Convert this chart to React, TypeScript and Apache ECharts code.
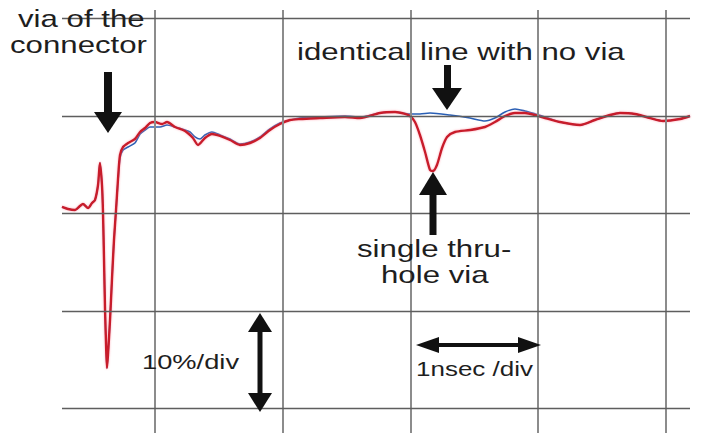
import React, { useEffect, useRef } from "react";
import * as echarts from "echarts";

// time in ns (grid lines at whole ns), level in % (grid line every 10 %)
const timeRed = [
  0.272, 0.319, 0.374, 0.413, 0.436, 0.476, 0.507, 0.53, 0.554, 0.569, 0.585, 0.593, 0.601, 0.609, 0.617,
  0.624, 0.632, 0.648, 0.663, 0.679, 0.695, 0.71, 0.726, 0.75, 0.789, 0.843, 0.883, 0.922, 0.961, 1.0,
  1.055, 1.094, 1.157, 1.235, 1.297, 1.337, 1.391, 1.446, 1.509, 1.587, 1.665, 1.744, 1.822, 1.9, 1.978,
  2.057, 2.135, 2.292, 2.487, 2.605, 2.761, 2.879, 2.957, 2.996, 3.035, 3.074, 3.114, 3.153, 3.176, 3.207,
  3.247, 3.286, 3.348, 3.466, 3.583, 3.661, 3.74, 3.818, 3.896, 3.975, 4.053, 4.17, 4.327, 4.444, 4.562,
  4.64, 4.757, 4.875, 4.977, 5.11, 5.188,
];
const redTrace = [
  -9.33, -9.54, -9.64, -9.23, -9.03, -9.44, -8.92, -8.62, -7.08, -4.82, -7.08, -9.95, -14.77, -19.9, -23.5,
  -25.85, -24.5, -20.9, -16.8, -12.7, -9.64, -6.56, -4.0, -3.18, -2.77, -2.36, -1.64, -1.23, -0.72, -0.62,
  -0.82, -0.62, -1.13, -1.54, -2.26, -2.97, -2.26, -1.85, -2.05, -2.46, -2.97, -2.77, -2.26, -1.44, -0.82,
  -0.41, -0.31, -0.21, -0.1, -0.21, 0.31, 0.41, 0.21, 0.0, -0.62, -1.95, -3.69, -5.54, -5.64, -5.03,
  -3.28, -2.15, -1.64, -1.44, -1.13, -0.62, 0.0, 0.31, 0.31, 0.1, -0.21, -0.62, -0.92, -0.41, 0.1,
  0.31, 0.21, -0.21, -0.51, -0.31, 0.0,
];
const timeBlue = [
  0.272, 0.319, 0.374, 0.413, 0.436, 0.476, 0.507, 0.53, 0.554, 0.569, 0.585, 0.593, 0.601, 0.609, 0.617,
  0.624, 0.632, 0.648, 0.663, 0.679, 0.695, 0.71, 0.726, 0.75, 0.789, 0.843, 0.883, 0.922, 0.961, 1.039,
  1.094, 1.157, 1.235, 1.274, 1.313, 1.352, 1.391, 1.446, 1.509, 1.587, 1.665, 1.744, 1.822, 1.9, 1.978,
  2.057, 2.135, 2.292, 2.487, 2.605, 2.761, 2.879, 2.996, 3.074, 3.153, 3.309, 3.466, 3.583, 3.661, 3.74,
  3.818, 3.896, 3.975, 4.053, 4.17, 4.327, 4.444, 4.562, 4.64, 4.757, 4.875, 4.977, 5.11, 5.188,
];
const blueTrace = [
  -9.33, -9.54, -9.64, -9.23, -9.03, -9.44, -8.92, -8.62, -7.08, -4.82, -7.08, -9.95, -14.77, -19.9, -23.5,
  -25.85, -24.5, -20.9, -16.8, -12.7, -9.64, -6.77, -4.31, -3.49, -3.18, -2.77, -1.85, -1.44, -1.13, -1.13,
  -0.92, -1.13, -1.44, -1.64, -2.15, -2.36, -1.95, -1.64, -1.95, -2.36, -2.87, -2.67, -2.15, -1.33, -0.72,
  -0.41, -0.21, -0.1, 0.0, -0.1, 0.31, 0.41, 0.21, 0.21, 0.31, 0.1, -0.21, -0.51, -0.21, 0.41,
  0.72, 0.51, 0.21, -0.1, -0.62, -0.92, -0.41, 0.1, 0.31, 0.21, -0.21, -0.51, -0.31, 0.0,
];
const timeDivisions = [1, 2, 3, 4, 5];
const levelDivisions = [10, 0, -10, -20, -30];
const timeRange = [0.272, 5.188];
const levelRange = [-32.51, 10.87];

const FONT = "'Liberation Sans', Arial, Helvetica, sans-serif";
const SX = 1.3;

function label(text: string, x: number, baseline: number, size: number) {
  return {
    type: "text",
    x,
    y: baseline,
    scaleX: SX,
    z: 10,
    style: {
      text,
      x: 0,
      y: 0,
      fill: "#1e1e1e",
      font: `${size}px ${FONT}`,
      textAlign: "left",
      textVerticalAlign: "bottom",
    },
  };
}

function poly(points: number[][]) {
  return { type: "polygon", z: 10, shape: { points }, style: { fill: "#111" } };
}
function bar(x: number, y: number, w: number, h: number) {
  return { type: "rect", z: 10, shape: { x, y, width: w, height: h }, style: { fill: "#111" } };
}

export default function App() {
  const ref = useRef<HTMLDivElement>(null);
  useEffect(() => {
    if (!ref.current) return;
    const chart = echarts.init(ref.current, undefined, { renderer: "svg" });
    const red = timeRed.map((t, i) => [t, redTrace[i]]);
    const blue = timeBlue.map((t, i) => [t, blueTrace[i]]);
    const gridLines = [
      ...timeDivisions.map((v) => ({ xAxis: v, lineStyle: { color: "#8c8c8c", width: 2, type: "solid" } })),
      ...levelDivisions.map((v) => ({ yAxis: v, lineStyle: { color: "#5e5e5e", width: 1.3, type: "solid" } })),
    ];
    chart.setOption({
      animation: false,
      backgroundColor: "#ffffff",
      grid: { left: 62, right: 38, top: 10, bottom: 7 },
      xAxis: {
        type: "value",
        min: timeRange[0],
        max: timeRange[1],
        show: false,
        splitLine: { show: false },
      },
      yAxis: {
        type: "value",
        min: levelRange[0],
        max: levelRange[1],
        show: false,
        splitLine: { show: false },
      },
      series: [
        {
          type: "line",
          name: "grid",
          data: [],
          z: 1,
          silent: true,
          markLine: {
            silent: true,
            symbol: "none",
            label: { show: false },
            animation: false,
            data: gridLines,
          },
        },
        {
          type: "line",
          name: "identical line with no via",
          data: blue,
          z: 3,
          smooth: 0.25,
          showSymbol: false,
          symbol: "none",
          lineStyle: { color: "#2a5fb5", width: 1.6, join: "round" },
        },
        {
          type: "line",
          name: "single thru-hole via",
          data: red,
          z: 4,
          smooth: 0.25,
          showSymbol: false,
          symbol: "none",
          lineStyle: {
            color: "#c81a2c",
            width: 2.4,
            join: "round",
            shadowColor: "rgba(255,120,140,0.6)",
            shadowBlur: 2,
          },
        },
      ],
      graphic: [
        label("via of the", 18, 31, 24),
        label("connector", 10, 57, 24),
        label("identical line with no via", 297, 64, 24),
        label("single thru-", 357, 261, 24),
        label("hole via", 381, 287, 24),
        label("10%/div", 142, 372, 21),
        label("1nsec /div", 416, 379, 20),
        // arrow to connector via
        bar(104, 72, 8, 41),
        poly([[94, 112], [122, 112], [108, 133]]),
        // arrow to identical line
        bar(444, 65, 7, 24),
        poly([[432, 88], [462, 88], [447, 110]]),
        // arrow up to via dip
        bar(429.5, 194, 7, 41),
        poly([[419, 195], [447, 195], [433, 172]]),
        // vertical double arrow (10%/div)
        bar(257.5, 330, 5, 65),
        poly([[248, 332], [272, 332], [260, 313]]),
        poly([[248, 393], [272, 393], [260, 412]]),
        // horizontal double arrow (1nsec/div)
        bar(437, 343, 82, 4),
        poly([[439, 337], [439, 353], [416, 345]]),
        poly([[518, 337], [518, 353], [541, 345]]),
      ],
    });
    return () => chart.dispose();
  }, []);
  return (
    <div
      ref={ref}
      style={{ position: "absolute", left: 0, top: 0, width: 728, height: 440, background: "#fff" }}
    />
  );
}
